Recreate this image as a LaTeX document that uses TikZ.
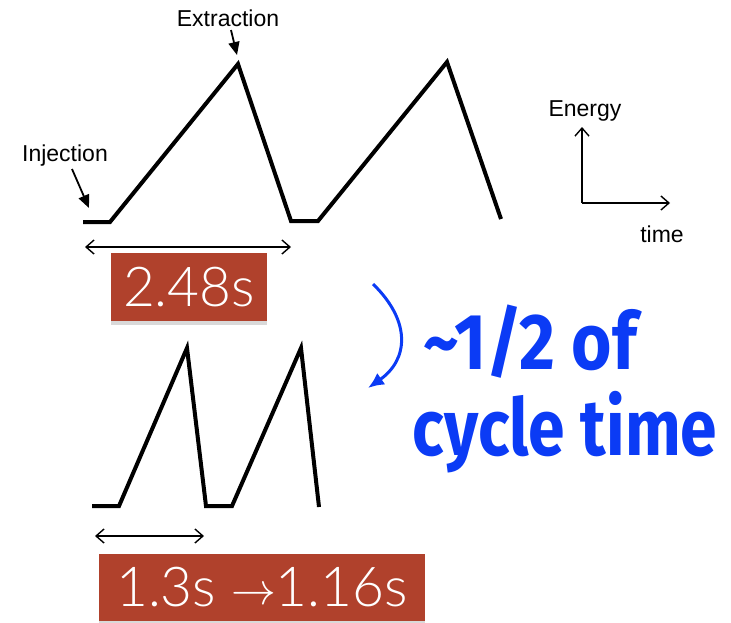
\documentclass[tikz,border=0pt]{standalone}
\usepackage{fontspec}
\setmainfont{Liberation Sans}
\newfontfamily\boxfont{Lato}[UprightFont=* Light]
\newfontfamily\handfont{Fira Sans}
\usetikzlibrary{arrows.meta,shadows}
\definecolor{brick}{HTML}{B0412C}
\definecolor{penblue}{HTML}{0B3BF5}

\begin{document}
\begin{tikzpicture}[x=1pt,y=-1pt, every node/.style={inner sep=0pt}, lbl/.style={font=\fontsize{23}{26}\selectfont}, wave/.style={line width=4pt,line join=miter}, point/.style={-{Triangle[length=13pt,width=11pt]},line width=1.8pt}, span/.style={{Straight Barb[length=8pt,width=14pt]}-{Straight Barb[length=8pt,width=14pt]},line width=1.4pt}, axis/.style={-{Straight Barb[length=8pt,width=14pt]},line width=1.4pt}, timebox/.style={fill=brick,text=white,drop shadow={shadow xshift=0pt,shadow yshift=-4pt,opacity=0.3}}, hand/.style={text=penblue,font=\handfont\bfseries\fontsize{66}{70}\selectfont}]
\useasboundingbox (0,0) rectangle (731,622);
% top cycle
\draw[wave] (83,222) -- (110,222) -- (238,64) -- (291,221) -- (318,221) -- (447,62) -- (501,219);
\node[lbl] (inj) at (65,156) {Injection};
\node[lbl] (ext) at (228,18) {Extraction};
\coordinate (injtip) at (89,208);
\coordinate (exttip) at (237,55);
\draw[point] (72,169) -- (injtip);
\draw[point] (231,30) -- (exttip);
\coordinate (spana) at (85,247);
\coordinate (spanb) at (291,247);
\draw[span] (spana) -- (spanb);
\node[timebox,minimum width=156pt,minimum height=68pt] (long) at (189,287) {\boxfont\fontsize{55}{58}\selectfont 2.48s};
% axes
\coordinate (orig) at (582,203);
\coordinate (eup) at (582,127);
\coordinate (tright) at (670,203);
\draw[axis] (orig) -- (eup);
\draw[axis] (orig) -- (tright);
\node[lbl] (energy) at (585,111) {Energy};
\node[lbl] (time) at (662,234) {time};
% bottom cycle
\draw[wave] (92,506) -- (119,506) -- (187,348) -- (206,506) -- (232,506) -- (301,348) -- (319,507);
\coordinate (shorta) at (95,536);
\coordinate (shortb) at (204,536);
\draw[span] (shorta) -- (shortb);
\node[timebox,minimum width=326pt,minimum height=67pt] (short) at (262,587.5) {\boxfont\fontsize{55}{58}\selectfont 1.3s \raisebox{2pt}{\scalebox{1.8}{$\rightarrow$}}1.16s};
% comment
\coordinate (bent) at (373,284);
\coordinate (benttip) at (368,388);
\draw[penblue,line width=3pt,-{Latex[length=16pt,width=14pt]}] (bent) .. controls (412,322) and (408,360) .. (benttip);
\node[hand] (half) at (530,342) {\scalebox{1.05}[1.2]{\textasciitilde 1/2 of}};
\node[hand] (cycle) at (565,432) {\scalebox{1.0}[1.2]{cycle time}};
\end{tikzpicture}
\end{document}
